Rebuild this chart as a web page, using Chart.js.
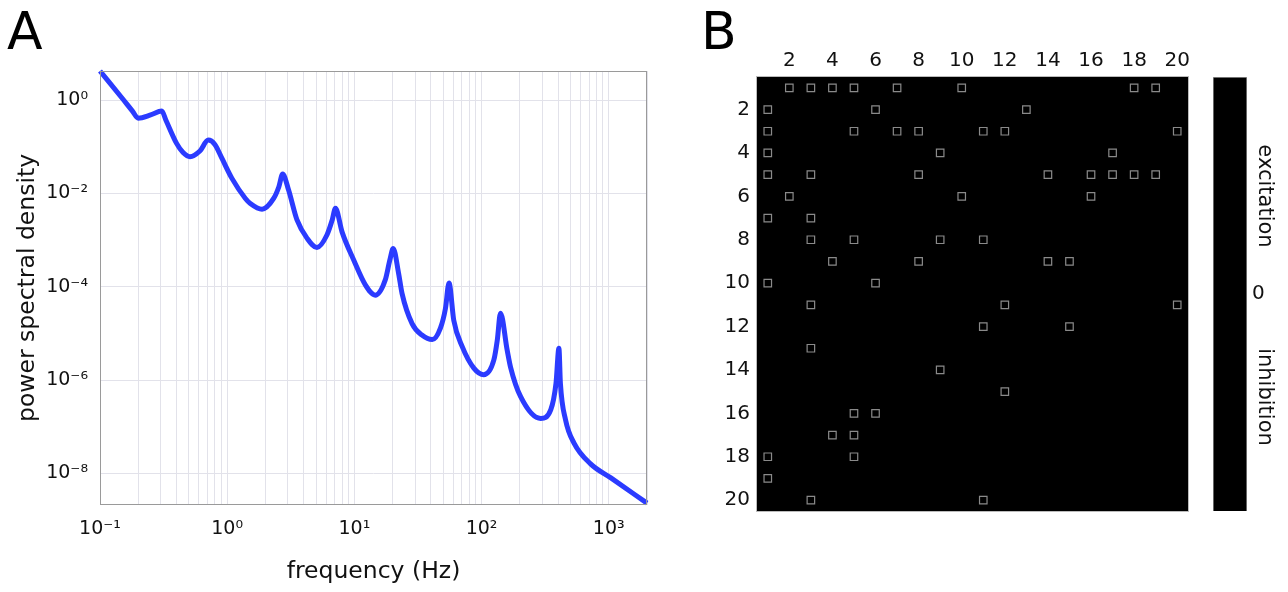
<!DOCTYPE html>
<html>
<head>
<meta charset="utf-8">
<script src="https://cdn.jsdelivr.net/npm/chart.js@4.4.1/dist/chart.umd.min.js"></script>
<style>
  body { margin: 0; background: #fff; font-family: "DejaVu Sans", sans-serif; }
  #wrap { position: relative; width: 1288px; height: 592px; overflow: hidden; }
  canvas { position: absolute; top: 0; }
  .panel { position: absolute; font-size: 52px; line-height: 1; color: #000; }
  .cbar-label { position: absolute; font-size: 21px; color: #111; transform: translate(-50%, -50%) rotate(90deg); white-space: nowrap; }
</style>
</head>
<body>
<div id="wrap">
  <canvas id="psd" width="680" height="592" style="left:0;width:680px;height:592px"></canvas>
  <canvas id="conn" width="505" height="592" style="left:700px;width:505px;height:592px"></canvas>
  <canvas id="cbar" width="88" height="592" style="left:1200px;width:88px;height:592px"></canvas>
  <div class="panel" style="left:7px;top:5px">A</div>
  <div class="panel" style="left:701px;top:5px">B</div>
  <div class="cbar-label" style="left:1266px;top:196px">excitation</div>
  <div class="cbar-label" style="left:1266px;top:397px">inhibition</div>
</div>
<script>
// panel A: power spectrum
const freqs = [0.1, 0.15, 0.18, 0.2, 0.25, 0.306, 0.33, 0.40, 0.45, 0.51, 0.61, 0.71, 0.80, 0.91, 1.09, 1.39, 1.52, 1.88,
  2.32, 2.55, 2.73, 3.04, 3.54, 4.24, 5.08, 6.1, 6.7, 7.1, 8.0, 9.9, 12.2, 14.6, 17.5, 19, 20.2, 22.3, 23.7, 28.5, 34, 41,
  47.5, 52, 55.5, 60.5, 70.5, 87, 104, 125, 133, 141, 159, 169, 203, 292, 350, 385, 406, 417, 458, 535, 720, 1040, 2000];
const psd = [4.2, 1.08, 0.58, 0.41, 0.48, 0.58, 0.37, 0.118, 0.075, 0.061, 0.081, 0.139, 0.112, 0.056, 0.021, 0.0078, 0.0061, 0.0046,
  0.0078, 0.0139, 0.026, 0.0118, 0.0027, 0.0011, 0.00069, 0.0013, 0.0027, 0.0048, 0.0015, 0.00037, 0.00011, 0.000066, 0.00014, 0.00037, 0.00066, 0.00019, 0.000072, 0.000016, 0.0000092, 0.0000074,
  0.000013, 0.000034, 0.00012, 0.000019, 0.0000052, 0.0000018, 0.0000013, 0.0000027, 0.0000072, 0.000027, 0.0000044, 0.0000019, 0.00000044, 0.00000015, 0.00000023, 0.00000085, 0.0000048, 0.00000085, 0.00000014, 0.000000044, 0.000000016, 0.000000008, 0.0000000023];
const xDecades = [0.1, 1, 10, 100, 1000];
const yTicks = [1, 1e-2, 1e-4, 1e-6, 1e-8];

// panel B: connection matrix, columns marked in each row (row 1 at top)
const connRows = [
  [2, 3, 4, 5, 7, 10, 18, 19],
  [1, 6, 13],
  [1, 5, 7, 8, 11, 12, 20],
  [1, 9, 17],
  [1, 3, 8, 14, 16, 17, 18, 19],
  [2, 10, 16],
  [1, 3],
  [3, 5, 9, 11],
  [4, 8, 14, 15],
  [1, 6],
  [3, 12, 20],
  [11, 15],
  [3],
  [9],
  [12],
  [5, 6],
  [4, 5],
  [1, 5],
  [1],
  [3, 11]
];
const matrixTicks = [2, 4, 6, 8, 10, 12, 14, 16, 18, 20];
const cbarRange = [-1, 1];
const cbarTicks = [0];

const sup = {'-': '\u207B', '0': '\u2070', '1': '\u00B9', '2': '\u00B2', '3': '\u00B3', '4': '\u2074',
  '5': '\u2075', '6': '\u2076', '7': '\u2077', '8': '\u2078', '9': '\u2079'};
function powLabel(v) {
  const e = Math.round(Math.log10(v));
  if (Math.abs(Math.log10(v) - e) > 1e-6) return '';
  return '10' + String(e).split('').map(c => sup[c]).join('');
}

const xMinor = [];
xDecades.forEach(d => {
  for (let k = 1; k <= 9; k++) {
    if (d * k <= 2000) xMinor.push(d * k);
  }
});

const frame = {
  id: 'frame',
  afterDraw(chart) {
    const {ctx, chartArea: a} = chart;
    ctx.save();
    ctx.strokeStyle = '#9a9a9a';
    ctx.lineWidth = 1;
    ctx.strokeRect(a.left + 0.5, a.top + 0.5, a.width - 1, a.height - 1);
    ctx.restore();
  }
};

new Chart(document.getElementById('psd'), {
  type: 'line',
  data: {
    datasets: [{
      data: freqs.map((f, i) => ({x: f, y: psd[i]})),
      borderColor: '#2b3bff',
      borderWidth: 5,
      pointRadius: 0,
      cubicInterpolationMode: 'monotone',
      borderJoinStyle: 'round',
      clip: 6
    }]
  },
  options: {
    responsive: false,
    animation: false,
    layout: { padding: { top: 71, right: 33, left: 0, bottom: 0 } },
    plugins: { legend: { display: false }, tooltip: { enabled: false } },
    scales: {
      x: {
        type: 'logarithmic',
        min: 0.1,
        max: 2000,
        afterBuildTicks: s => { s.ticks = xMinor.map(v => ({value: v})); },
        afterFit: s => { s.height = 87; },
        grid: { color: '#e2e2ea', drawTicks: false },
        border: { display: false },
        ticks: {
          autoSkip: false, maxRotation: 0, padding: 13, color: '#111',
          font: { family: 'DejaVu Sans', size: 19 },
          callback: v => powLabel(v)
        },
        title: {
          display: true, text: 'frequency (Hz)', color: '#111',
          font: { family: 'DejaVu Sans', size: 23.5 }, padding: { bottom: 6 }
        }
      },
      y: {
        type: 'logarithmic',
        min: 2.1e-9,
        max: 4.2,
        afterBuildTicks: s => { s.ticks = yTicks.map(v => ({value: v})); },
        afterFit: s => { s.width = 100; },
        grid: { color: '#e2e2ea', drawTicks: false },
        border: { display: false },
        ticks: {
          autoSkip: false, padding: 12, color: '#111',
          font: { family: 'DejaVu Sans', size: 19 },
          callback: v => powLabel(v)
        },
        title: {
          display: true, text: 'power spectral density', color: '#111',
          font: { family: 'DejaVu Sans', size: 23.5 }, padding: { top: 14 }
        }
      }
    }
  },
  plugins: [frame]
});

const matrixBg = {
  id: 'matrixBg',
  beforeDatasetsDraw(chart) {
    const {ctx, chartArea: a} = chart;
    ctx.save();
    ctx.fillStyle = '#000';
    ctx.fillRect(a.left, a.top, a.width, a.height);
    ctx.strokeStyle = '#bbb';
    ctx.strokeRect(a.left - 0.5, a.top - 0.5, a.width + 1, a.height + 1);
    ctx.restore();
  }
};

const connPoints = [];
connRows.forEach((cols, r) => cols.forEach(c => connPoints.push({x: c, y: r + 1})));

new Chart(document.getElementById('conn'), {
  type: 'scatter',
  data: {
    datasets: [{
      data: connPoints,
      pointStyle: 'rect',
      pointRadius: 5.3,
      borderColor: '#8a8a8a',
      borderWidth: 1.2,
      backgroundColor: 'rgba(0,0,0,0)'
    }]
  },
  options: {
    responsive: false,
    animation: false,
    layout: { padding: { top: 0, right: 17, left: 0, bottom: 81 } },
    plugins: { legend: { display: false }, tooltip: { enabled: false } },
    scales: {
      x: {
        type: 'linear', position: 'top', min: 0.5, max: 20.5,
        afterBuildTicks: s => { s.ticks = matrixTicks.map(v => ({value: v})); },
        afterFit: s => { s.height = 77; },
        grid: { display: false, drawTicks: false },
        border: { display: false },
        ticks: { autoSkip: false, maxRotation: 0, padding: 4, color: '#111', font: { family: 'DejaVu Sans', size: 20 } }
      },
      y: {
        type: 'linear', reverse: true, min: 0.5, max: 20.5,
        afterBuildTicks: s => { s.ticks = matrixTicks.map(v => ({value: v})); },
        afterFit: s => { s.width = 57; },
        grid: { display: false, drawTicks: false },
        border: { display: false },
        ticks: { autoSkip: false, padding: 7, color: '#111', font: { family: 'DejaVu Sans', size: 20 } }
      }
    }
  },
  plugins: [matrixBg]
});

new Chart(document.getElementById('cbar'), {
  type: 'bar',
  data: {
    labels: [''],
    datasets: [{
      data: [cbarRange],
      backgroundColor: '#000',
      borderColor: '#999',
      borderWidth: 1,
      barPercentage: 1,
      categoryPercentage: 1
    }]
  },
  options: {
    responsive: false,
    animation: false,
    layout: { padding: { top: 77, right: 0, left: 13, bottom: 81 } },
    plugins: { legend: { display: false }, tooltip: { enabled: false } },
    scales: {
      x: { display: false },
      y: {
        position: 'right', min: cbarRange[0], max: cbarRange[1],
        afterBuildTicks: s => { s.ticks = cbarTicks.map(v => ({value: v})); },
        afterFit: s => { s.width = 41; },
        grid: { display: false, drawTicks: false },
        border: { display: false },
        ticks: { padding: 5, color: '#111', font: { family: 'DejaVu Sans', size: 20 } }
      }
    }
  }
});
</script>
</body>
</html>
